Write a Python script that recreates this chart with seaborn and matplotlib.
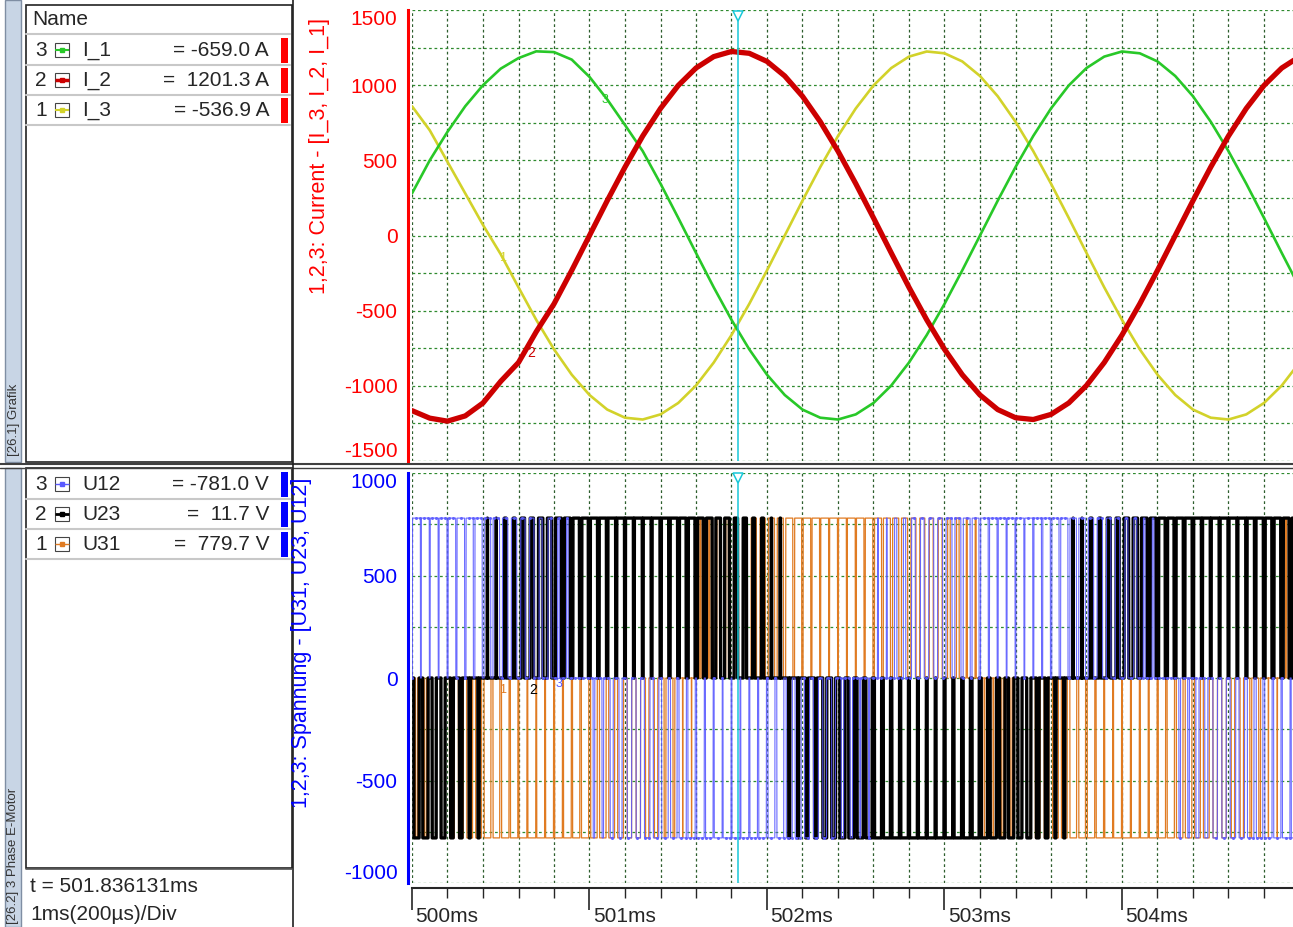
import numpy as np
import pandas as pd
import matplotlib
matplotlib.use('Agg')
import matplotlib.pyplot as plt
import matplotlib.ticker as ticker
from matplotlib.patches import Rectangle
import seaborn as sns

# current traces, one reading every 0.1 ms starting at 500.0 ms
t_current = np.round(np.arange(500.0, 505.01, 0.1), 2)
i_1 = [280, 500, 690, 860, 1000, 1110, 1180, 1225, 1220, 1170, 1055, 905, 735, 561, 345, 117,
       -116, -345, -561, -757, -926, -1061, -1158, -1212, -1224, -1190, -1114, -998, -845, -662,
       -455, -232, 0, 232, 455, 662, 845, 998, 1114, 1190, 1224, 1212, 1158, 1061, 926, 757,
       561, 345, 117, -116, -345]
i_2 = [-1165, -1215, -1235, -1200, -1114, -970, -845, -640, -455, -232, 0, 232, 455, 662, 845,
       998, 1114, 1190, 1224, 1212, 1158, 1061, 926, 757, 561, 345, 117, -116, -345, -561,
       -757, -926, -1061, -1158, -1212, -1224, -1190, -1114, -998, -845, -662, -455, -232, 0,
       232, 455, 662, 845, 998, 1114, 1190]
i_3 = [860, 700, 490, 280, 70, -125, -345, -561, -757, -926, -1061, -1158, -1212, -1224, -1190,
       -1114, -998, -845, -662, -455, -232, 0, 232, 455, 662, 845, 998, 1114, 1190, 1224, 1212,
       1158, 1061, 926, 757, 561, 345, 117, -116, -345, -561, -757, -926, -1061, -1158, -1212,
       -1224, -1190, -1114, -998, -845]

# line voltages: signed pulse duty for each 0.1 ms window (two 50 us pulses per window)
u12_duty = [0.89, 0.90, 0.87, 0.82, 0.73, 0.62, 0.49, 0.33, 0.17, 0.0,
            -0.17, -0.33, -0.49, -0.62, -0.73, -0.82, -0.87, -0.90, -0.89, -0.85,
            -0.78, -0.68, -0.56, -0.41, -0.25, -0.09, 0.09, 0.25, 0.41, 0.56,
            0.68, 0.78, 0.85, 0.89, 0.90, 0.87, 0.82, 0.73, 0.62, 0.49,
            0.33, 0.17, 0.0, -0.17, -0.33, -0.49, -0.62, -0.73, -0.82, -0.87]
u23_duty = [-0.60, -0.46, -0.30, -0.14, 0.03, 0.20, 0.37, 0.51, 0.65, 0.75,
            0.83, 0.88, 0.90, 0.89, 0.84, 0.76, 0.66, 0.53, 0.38, 0.22,
            0.05, -0.12, -0.29, -0.44, -0.58, -0.70, -0.80, -0.86, -0.89, -0.90,
            -0.87, -0.80, -0.71, -0.60, -0.46, -0.30, -0.14, 0.03, 0.20, 0.36,
            0.51, 0.64, 0.75, 0.83, 0.88, 0.90, 0.89, 0.84, 0.76, 0.66]
u31_duty = [-0.22, -0.38, -0.53, -0.66, -0.76, -0.84, -0.89, -0.90, -0.88, -0.83,
            -0.75, -0.65, -0.51, -0.37, -0.20, -0.03, 0.14, 0.30, 0.46, 0.60,
            0.71, 0.80, 0.87, 0.90, 0.90, 0.86, 0.80, 0.70, 0.58, 0.44,
            0.29, 0.12, -0.05, -0.22, -0.38, -0.53, -0.66, -0.76, -0.84, -0.89,
            -0.90, -0.88, -0.83, -0.75, -0.65, -0.51, -0.37, -0.20, -0.03, 0.14]
u_level = 780

cursor_t = 501.836131
x_tick_ms = [500, 501, 502, 503, 504]

legend_num = ['3', '2', '1']
cur_names = ['I_1', 'I_2', 'I_3']
cur_readout = ['= -659.0 A', '=  1201.3 A', '= -536.9 A']
volt_names = ['U12', 'U23', 'U31']
volt_readout = ['= -781.0 V', '=  11.7 V', '=  779.7 V']

c_i1, c_i2, c_i3 = '#28c828', '#cc0000', '#d2d22a'
c_u12, c_u23, c_u31 = '#5a5aff', '#000000', '#e07b22'
grid_v = '#2d5e2d'
grid_h = '#2f8a2f'
cursor_col = '#18c8d8'

sns.set_style('white')
plt.rcParams['font.family'] = ['Liberation Sans', 'DejaVu Sans']
plt.rcParams['axes.unicode_minus'] = False

W, H = 1293, 927
fig = plt.figure(figsize=(W / 100, H / 100), dpi=100)


def box(x0, y0, x1, y1):
    return [x0 / W, 1 - y1 / H, (x1 - x0) / W, (y1 - y0) / H]


ax_bg = fig.add_axes([0, 0, 1, 1])
ax_bg.set_xlim(0, W)
ax_bg.set_ylim(H, 0)
ax_bg.axis('off')

x_right = 500.0 + (W - 412) / 177.5
ax_top = fig.add_axes(box(412, 10, W, 461))
ax_bot = fig.add_axes(box(412, 473, W, 883))
ax_x = fig.add_axes(box(412, 888, W, H))


def pwm_trace(duty):
    # build the pulse train from the duty readings, 1 us resolution
    t = np.arange(500.0, 505.0, 0.001)
    k = np.clip(((t - 500.0) / 0.1 + 1e-9).astype(int), 0, len(duty) - 1)
    d = np.array(duty)[k]
    phase = ((t - 500.0) % 0.05) / 0.05
    on = np.abs(phase - 0.5) < np.abs(d) / 2
    return pd.DataFrame({'t': t, 'u': np.sign(d) * u_level * on})


# currents
df_cur = pd.DataFrame({'t': t_current, 'I_1': i_1, 'I_2': i_2, 'I_3': i_3})
sns.lineplot(data=df_cur, x='t', y='I_3', color=c_i3, lw=1.9, ax=ax_top)
sns.lineplot(data=df_cur, x='t', y='I_1', color=c_i1, lw=1.9, ax=ax_top)
sns.lineplot(data=df_cur, x='t', y='I_2', color=c_i2, lw=3.8, ax=ax_top)

# voltages
sns.lineplot(data=pwm_trace(u31_duty), x='t', y='u', color=c_u31, lw=0.9,
             estimator=None, sort=False, ax=ax_bot)
sns.lineplot(data=pwm_trace(u23_duty), x='t', y='u', color=c_u23, lw=2.4,
             estimator=None, sort=False, ax=ax_bot)
sns.lineplot(data=pwm_trace(u12_duty), x='t', y='u', color=c_u12, lw=0.8, alpha=0.9,
             marker='o', markersize=2.2, markevery=23, markeredgewidth=0,
             estimator=None, sort=False, ax=ax_bot)


def style_panel(ax, lim, col):
    ax.set_xlim(500.0, x_right)
    ax.set_ylim(-lim, lim)
    ax.set_xlabel('')
    ax.set_ylabel('')
    ax.xaxis.set_major_locator(ticker.MultipleLocator(0.2))
    ax.yaxis.set_major_locator(ticker.MultipleLocator(500))
    ax.yaxis.set_minor_locator(ticker.MultipleLocator(250))
    ax.yaxis.set_major_formatter(ticker.FuncFormatter(lambda v, _: '' if abs(v) >= lim else f'{v:.0f}'))
    ax.grid(True, axis='x', color=grid_v, linestyle=(0, (2.2, 2.2)), linewidth=0.9)
    ax.grid(True, axis='y', which='both', color=grid_h, linestyle=(0, (2.2, 2.2)), linewidth=0.9)
    ax.tick_params(axis='x', bottom=False, labelbottom=False)
    ax.tick_params(axis='y', which='major', colors=col, length=4.5, width=1.2, labelsize=15, pad=3)
    ax.tick_params(axis='y', which='minor', colors=col, length=2.5, width=1.2)
    for s in ('top', 'right', 'bottom'):
        ax.spines[s].set_visible(False)
    ax.spines['left'].set_color(col)
    ax.spines['left'].set_linewidth(2.2)
    ax.spines['left'].set_position(('outward', 3))
    for v in (lim, -lim):
        ax.annotate(f'{v}', xy=(0, v), xycoords=ax.get_yaxis_transform(), xytext=(-10.5, 0),
                    textcoords='offset points', ha='right', va='top' if v > 0 else 'bottom',
                    color=col, fontsize=15)
    ax.axvline(cursor_t, color=cursor_col, lw=1.1, zorder=5)
    ax.plot([cursor_t], [lim * 0.975], marker='v', ms=7, mfc='white', mec=cursor_col,
            mew=1.1, clip_on=False, zorder=6)


style_panel(ax_top, 1500, 'red')
style_panel(ax_bot, 1000, 'blue')

# small curve numbers
ax_top.text(501.09, 900, '3', color=c_i1, fontsize=9, ha='center', va='center')
ax_top.text(500.51, -150, '1', color=c_i3, fontsize=9, ha='center', va='center')
ax_top.text(500.67, -780, '2', color=c_i2, fontsize=10, ha='center', va='center')
ax_bot.text(500.51, -60, '1', color=c_u31, fontsize=9, ha='center', va='center')
ax_bot.text(500.68, -60, '2', color=c_u23, fontsize=10, ha='center', va='center')
ax_bot.text(500.83, -30, '3', color=c_u12, fontsize=9, ha='center', va='center')

# time axis strip
ax_x.set_xlim(500.0, x_right)
ax_x.set_ylim(0, 1)
ax_x.set_yticks([])
ax_x.patch.set_alpha(0)
for s in ('left', 'right', 'bottom'):
    ax_x.spines[s].set_visible(False)
ax_x.spines['top'].set_linewidth(1.5)
ax_x.xaxis.set_ticks_position('top')
ax_x.xaxis.set_major_locator(ticker.FixedLocator(x_tick_ms))
ax_x.xaxis.set_minor_locator(ticker.MultipleLocator(0.2))
ax_x.tick_params(axis='x', which='major', direction='in', length=16, width=1.2,
                 labeltop=False, labelbottom=False)
ax_x.tick_params(axis='x', which='minor', direction='in', length=7, width=1.0)
for t in x_tick_ms:
    ax_x.annotate(f'{t}ms', xy=(t, 0.28), xytext=(2.5, 0), textcoords='offset points',
                  ha='left', va='center', fontsize=15)

# left panel: side strip, signal lists, cursor readout
strip = '#c8d5e5'
ax_bg.add_patch(Rectangle((5, 0), 16, 462, fc=strip, ec='#7f8ea3', lw=1))
ax_bg.add_patch(Rectangle((5, 468), 16, 459, fc=strip, ec='#7f8ea3', lw=1))
ax_bg.text(13.5, 456, '[26.1] Grafik', rotation=90, ha='center', va='bottom', fontsize=9.5, color='#333333')
ax_bg.text(13.5, 924, '[26.2] 3 Phase E-Motor', rotation=90, ha='center', va='bottom', fontsize=9.5, color='#333333')

ax_bg.plot([0, W], [463.5, 463.5], color='#404040', lw=1.5)
ax_bg.plot([0, W], [467.5, 467.5], color='#404040', lw=1)
ax_bg.plot([292.5, 292.5], [0, H], color='#202020', lw=1.2)

ax_bg.add_patch(Rectangle((26, 5), 266, 457, fill=False, ec='#222222', lw=1.2))
ax_bg.add_patch(Rectangle((26, 468), 266, 400, fill=False, ec='#222222', lw=1.2))
ax_bg.text(32, 19, 'Name', ha='left', va='center', fontsize=15)
ax_bg.plot([26, 290], [34, 34], color='#c8c8c8', lw=1.5)


def legend_rows(y_rows, names, readouts, colors, lws, bar_col):
    for y, num, name, val, col, lw in zip(y_rows, legend_num, names, readouts, colors, lws):
        ax_bg.text(41, y, num, ha='center', va='center', fontsize=15)
        ax_bg.add_patch(Rectangle((55, y - 7), 14, 14, fc='white', ec='#444444', lw=0.8))
        ax_bg.plot([55, 69], [y, y], color=col, lw=lw, solid_capstyle='butt')
        ax_bg.plot([62], [y], marker='s', ms=2.5, color=col)
        ax_bg.text(82, y, name, ha='left', va='center', fontsize=15)
        ax_bg.text(269, y, val, ha='right', va='center', fontsize=15)
        ax_bg.add_patch(Rectangle((281, y - 12.5), 6.5, 25, fc=bar_col, ec='none'))
        ax_bg.plot([26, 290], [y + 14.5, y + 14.5], color='#c8c8c8', lw=1.5)


legend_rows([50, 80, 110], cur_names, cur_readout, [c_i1, c_i2, c_i3], [1.5, 2.5, 1.5], '#ff0000')
legend_rows([484, 514, 544], volt_names, volt_readout, [c_u12, c_u23, c_u31], [1.0, 2.0, 1.0], '#0000ff')

ax_bg.plot([26, 292], [868.5, 868.5], color='#555555', lw=1.2)
ax_bg.text(30, 887, f't = {cursor_t:.6f}ms', ha='left', va='center', fontsize=15)
ax_bg.text(30, 914, '1ms(200µs)/Div', ha='left', va='center', fontsize=15)

ax_bg.text(320, 18, '1,2,3: Current - [I_3, I_2, I_1]', rotation=90, ha='center', va='top',
           color='red', fontsize=15.5)
ax_bg.text(301, 478, '1,2,3: Spannung - [U31, U23, U12]', rotation=90, ha='center', va='top',
           color='blue', fontsize=15.5)

fig.savefig('out.png', dpi=100)
